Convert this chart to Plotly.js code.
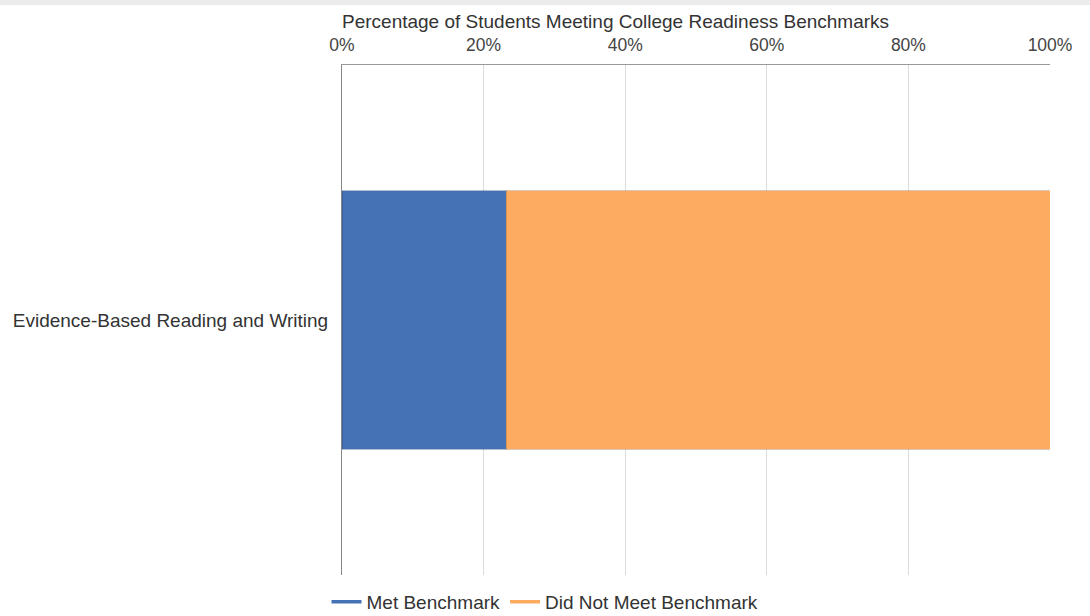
<!DOCTYPE html>
<html>
<head>
<meta charset="utf-8">
<script src="https://cdn.plot.ly/plotly-3.0.1.min.js"></script>
<style>
html,body{margin:0;padding:0;background:#fff;}
#strip{position:absolute;left:0;top:0;width:1090px;height:5px;background:#ececec;z-index:5;}
#chart{width:1090px;height:616px;}
</style>
</head>
<body>
<div id="strip"></div>
<div id="chart"></div>
<script>
const categories = ["Evidence-Based Reading and Writing"];
const metBenchmark = [23.2];
const didNotMeet = [76.8];
const seriesNames = ["Met Benchmark", "Did Not Meet Benchmark"];
const colors = ["#4472b4", "#fdab61"];
const titleText = "Percentage of Students Meeting College Readiness Benchmarks";

const fam = "Liberation Sans, Arial, sans-serif";

const traces = [
  {type: "bar", orientation: "h", y: categories, x: metBenchmark, name: seriesNames[0],
   marker: {color: colors[0], line: {color: "rgba(40,60,110,0.35)", width: 1}}, showlegend: false, hoverinfo: "x+name"},
  {type: "bar", orientation: "h", y: categories, x: didNotMeet, name: seriesNames[1],
   marker: {color: colors[1], line: {color: "rgba(150,100,50,0.35)", width: 1}}, showlegend: false, hoverinfo: "x+name"},
  {type: "scatter", mode: "lines", x: [null], y: [null], name: seriesNames[0],
   line: {color: colors[0], width: 3.5}, hoverinfo: "skip"},
  {type: "scatter", mode: "lines", x: [null], y: [null], name: seriesNames[1],
   line: {color: colors[1], width: 3.5}, hoverinfo: "skip"}
];

const layout = {
  width: 1090, height: 616,
  margin: {l: 342, r: 40, t: 65, b: 41, autoexpand: false},
  barmode: "stack",
  bargap: 0.494,
  paper_bgcolor: "#fff", plot_bgcolor: "#fff",
  font: {family: fam, size: 17, color: "#333"},
  title: {text: titleText, font: {family: fam, size: 19, color: "#333"},
          xref: "paper", x: 0, xanchor: "left", yref: "container", y: 1 - 21/616, yanchor: "middle"},
  xaxis: {side: "top", range: [0, 100], dtick: 20, ticksuffix: "%",
          showgrid: true, gridcolor: "#dcdcdc", gridwidth: 1,
          showline: true, linecolor: "#999", linewidth: 1,
          zeroline: false, ticks: "", fixedrange: true, ticklabelstandoff: 6,
          tickfont: {family: fam, size: 17.5, color: "#444"}},
  yaxis: {showline: true, linecolor: "#888", linewidth: 1, ticks: "",
          showgrid: false, zeroline: false, fixedrange: true,
          tickfont: {family: fam, size: 19, color: "#333"}, ticklabelstandoff: 9},
  legend: {orientation: "h", traceorder: "normal", xref: "container", x: 545/1090, xanchor: "center",
           yref: "container", y: 1 - 602/616, yanchor: "middle",
           font: {family: fam, size: 19, color: "#333"}, itemwidth: 30, tracegroupgap: 0},
  showlegend: true
};

Plotly.newPlot("chart", traces, layout, {displayModeBar: false, staticPlot: true});
</script>
</body>
</html>
